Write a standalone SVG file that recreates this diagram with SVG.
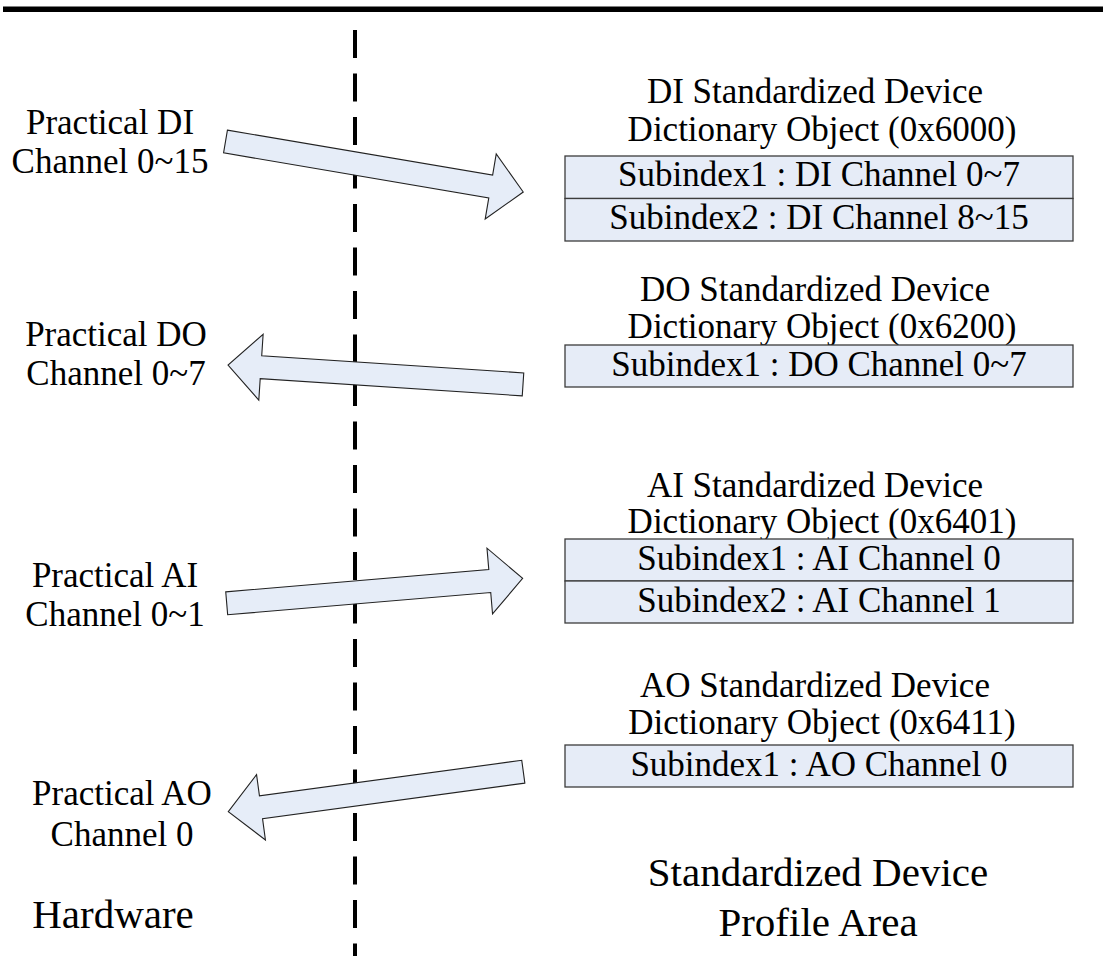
<svg xmlns="http://www.w3.org/2000/svg" width="1103" height="956" viewBox="0 0 1103 956">
<style>
text{font-family:"Liberation Serif","Times New Roman",serif;fill:#000;text-anchor:middle}
.t{font-size:35px}
.big{font-size:41px}
.box{fill:#E6ECF7;stroke:#3c3c3c;stroke-width:1.3}
.arrow{fill:#E6EDF8;stroke:#222;stroke-width:1.1;stroke-linejoin:miter}
</style>
<rect x="3" y="6.5" width="1100" height="5.5" fill="#000"/>
<line x1="355" y1="30" x2="355" y2="956" stroke="#000" stroke-width="4" stroke-dasharray="28 15.5"/>
<g id="connectors">
<polygon class="arrow" transform="translate(225.5,141.5) rotate(9.63)" points="0,-11.5 269,-11.5 269,-33 302,0 269,33 269,11.5 0,11.5"/>
<polygon class="arrow" transform="translate(523,384.4) rotate(183.76)" points="0,-11.5 262.6,-11.5 262.6,-33 295.6,0 262.6,33 262.6,11.5 0,11.5"/>
<polygon class="arrow" transform="translate(226.7,603.3) rotate(-4.83)" points="0,-11.5 264,-11.5 264,-33 297,0 264,33 264,11.5 0,11.5"/>
<polygon class="arrow" transform="translate(523.3,771.7) rotate(172.28)" points="0,-11.5 264.7,-11.5 264.7,-33 297.7,0 264.7,33 264.7,11.5 0,11.5"/>
</g>
<g id="di-hw">
<text class="t" x="110" y="134">Practical DI</text>
<text class="t" x="110" y="173">Channel 0~15</text>
</g>
<g id="do-hw">
<text class="t" x="116" y="346">Practical DO</text>
<text class="t" x="116" y="385">Channel 0~7</text>
</g>
<g id="ai-hw">
<text class="t" x="115" y="587">Practical AI</text>
<text class="t" x="115" y="626">Channel 0~1</text>
</g>
<g id="ao-hw">
<text class="t" x="122" y="805">Practical AO</text>
<text class="t" x="122" y="846">Channel 0</text>
</g>
<g id="hardware">
<text class="big" x="113" y="928">Hardware</text>
</g>
<g id="di-obj">
<text class="t" x="815" y="103">DI Standardized Device</text>
<text class="t" x="822" y="141">Dictionary Object (0x6000)</text>
<rect class="box" x="565" y="156" width="508" height="42.5"/>
<rect class="box" x="565" y="198.5" width="508" height="42.5"/>
<text class="t" x="819" y="186">Subindex1 : DI Channel 0~7</text>
<text class="t" x="819" y="229">Subindex2 : DI Channel 8~15</text>
</g>
<g id="do-obj">
<text class="t" x="815" y="301">DO Standardized Device</text>
<text class="t" x="822" y="338">Dictionary Object (0x6200)</text>
<rect class="box" x="565" y="345" width="508" height="42"/>
<text class="t" x="819" y="376">Subindex1 : DO Channel 0~7</text>
</g>
<g id="ai-obj">
<text class="t" x="815" y="497">AI Standardized Device</text>
<text class="t" x="822" y="533">Dictionary Object (0x6401)</text>
<rect class="box" x="565" y="539" width="508" height="42"/>
<rect class="box" x="565" y="581" width="508" height="42"/>
<text class="t" x="819" y="570">Subindex1 : AI Channel 0</text>
<text class="t" x="819" y="612">Subindex2 : AI Channel 1</text>
</g>
<g id="ao-obj">
<text class="t" x="815" y="697">AO Standardized Device</text>
<text class="t" x="822" y="734">Dictionary Object (0x6411)</text>
<rect class="box" x="565" y="745" width="508" height="42"/>
<text class="t" x="819" y="776">Subindex1 : AO Channel 0</text>
</g>
<g id="profile-area">
<text class="big" x="818" y="886">Standardized Device</text>
<text class="big" x="818" y="936">Profile Area</text>
</g>
</svg>
